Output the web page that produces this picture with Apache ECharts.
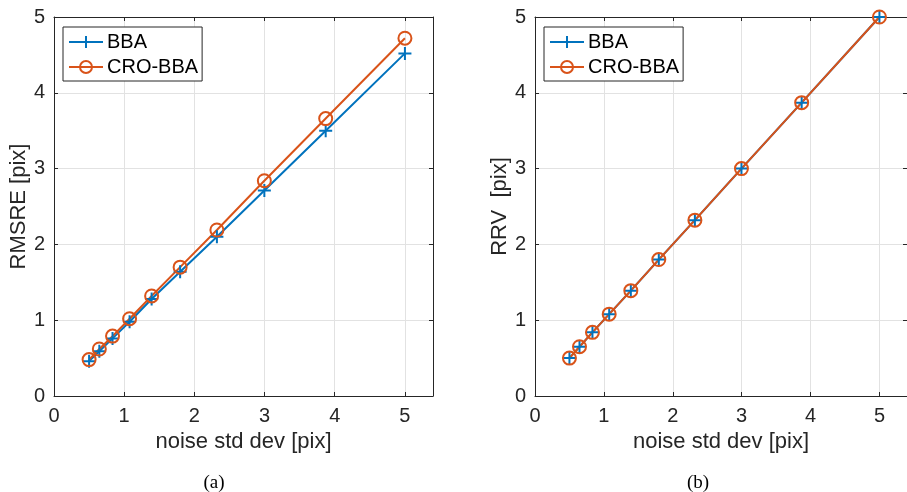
<!DOCTYPE html>
<html>
<head>
<meta charset="utf-8">
<script src="https://cdn.jsdelivr.net/npm/echarts@6/dist/echarts.min.js"></script>
<style>
html,body{margin:0;padding:0;background:#fff;}
#c{width:907px;height:492px;}
</style>
</head>
<body>
<div id="c"></div>
<script>
// ---- data ----
const noiseStd = [0.5, 0.646, 0.834, 1.077, 1.391, 1.797, 2.321, 2.997, 3.871, 5.0];
const rmsreBBA = [0.46, 0.59, 0.76, 0.98, 1.28, 1.64, 2.10, 2.71, 3.50, 4.52];
const rmsreCRO = [0.48, 0.62, 0.79, 1.02, 1.32, 1.70, 2.19, 2.84, 3.66, 4.72];
const rrvBBA = [0.50, 0.65, 0.84, 1.08, 1.39, 1.80, 2.32, 3.00, 3.87, 5.00];
const rrvCRO = [0.50, 0.65, 0.84, 1.08, 1.39, 1.80, 2.32, 3.00, 3.87, 5.00];
const xTickLabels = ['0', '1', '2', '3', '4', '5'];
const yTickLabels = ['0', '1', '2', '3', '4', '5'];
const seriesNames = ['BBA', 'CRO-BBA'];
const xName = 'noise std dev [pix]';
const yNames = ['RMSRE [pix]', 'RRV  [pix]'];
const captions = ['(a)', '(b)'];

const BLUE = '#0072BD', ORANGE = '#D95319', AX = '#262626';
const FONT = 'Liberation Sans';
const PLUS = 'path://M5,0L5,10M0,5L10,5';

function pairs(xs, ys) { return xs.map((x, i) => [x, ys[i]]); }
function tickFmt(labels) {
  return function (v) {
    const i = Math.round(v);
    return (Math.abs(v - i) < 1e-6 && i >= 0 && i < labels.length) ? labels[i] : '';
  };
}

const grids = [
  {left: 54, top: 17, width: 379, height: 379},
  {left: 535, top: 17, width: 379, height: 379}
];

const xAxes = [], yAxes = [], series = [], legends = [], graphics = [];
const dataSets = [[rmsreBBA, rmsreCRO], [rrvBBA, rrvCRO]];

grids.forEach((g, gi) => {
  const base = {
    type: 'value', gridIndex: gi, min: 0, interval: 1,
    axisLine: {show: true, onZero: false, lineStyle: {color: AX, width: 1}},
    axisTick: {show: true, inside: true, length: 4, lineStyle: {color: AX, width: 1}},
    axisLabel: {show: true, color: AX, fontFamily: FONT, fontSize: 20, margin: 9},
    splitLine: {show: false}
  };
  xAxes.push(Object.assign({}, base, {
    position: 'bottom', max: 5.4,
    axisLabel: Object.assign({}, base.axisLabel, {formatter: tickFmt(xTickLabels), showMaxLabel: false, margin: 10}),
    splitLine: {show: true, lineStyle: {color: '#e2e2e2', width: 1}},
    name: xName, nameLocation: 'middle', nameGap: 34,
    nameTextStyle: {color: AX, fontFamily: FONT, fontSize: 22}
  }));
  xAxes.push(Object.assign({}, base, {
    position: 'top', max: 5.4, axisLabel: {show: false}
  }));
  yAxes.push(Object.assign({}, base, {
    position: 'left', max: 5,
    axisLabel: Object.assign({}, base.axisLabel, {formatter: tickFmt(yTickLabels)}),
    splitLine: {show: true, lineStyle: {color: '#e2e2e2', width: 1}},
    name: yNames[gi], nameLocation: 'middle', nameGap: 19,
    nameTextStyle: {color: AX, fontFamily: FONT, fontSize: 22}
  }));
  yAxes.push(Object.assign({}, base, {
    position: 'right', max: 5, axisLabel: {show: false}
  }));

  const [bba, cro] = dataSets[gi];
  series.push({
    name: seriesNames[0], type: 'line', xAxisIndex: gi * 2, yAxisIndex: gi * 2,
    data: pairs(noiseStd, bba), symbol: PLUS, symbolSize: 13,
    lineStyle: {color: BLUE, width: 2},
    itemStyle: {color: BLUE, borderColor: BLUE, borderWidth: 2},
    animation: false
  });
  series.push({
    name: seriesNames[1], type: 'line', xAxisIndex: gi * 2, yAxisIndex: gi * 2,
    data: pairs(noiseStd, cro), symbol: 'circle', symbolSize: 13,
    lineStyle: {color: ORANGE, width: 2},
    itemStyle: {color: 'rgba(0,0,0,0)', borderColor: ORANGE, borderWidth: 2},
    animation: false
  });

  legends.push({
    orient: 'vertical', left: g.left + 9, top: 27,
    data: seriesNames,
    backgroundColor: '#fff', borderColor: AX, borderWidth: 1,
    padding: [5, 4, 4, 5], itemGap: 5, itemWidth: 34, itemHeight: 15,
    textStyle: {color: '#000', fontFamily: FONT, fontSize: 20, lineHeight: 20, padding: [0, 0, 0, -1]},
    selectedMode: false
  });

  graphics.push({
    type: 'text',
    x: g.left + (gi === 0 ? 160 : 163), y: 474,
    style: {text: captions[gi], fill: '#000', font: '19px "Liberation Serif"', textAlign: 'center'}
  });
});

const chart = echarts.init(document.getElementById('c'), null, {renderer: 'canvas'});
chart.setOption({
  animation: false,
  backgroundColor: '#fff',
  grid: grids,
  xAxis: xAxes,
  yAxis: yAxes,
  series: series,
  legend: legends,
  graphic: graphics
});
</script>
</body>
</html>
